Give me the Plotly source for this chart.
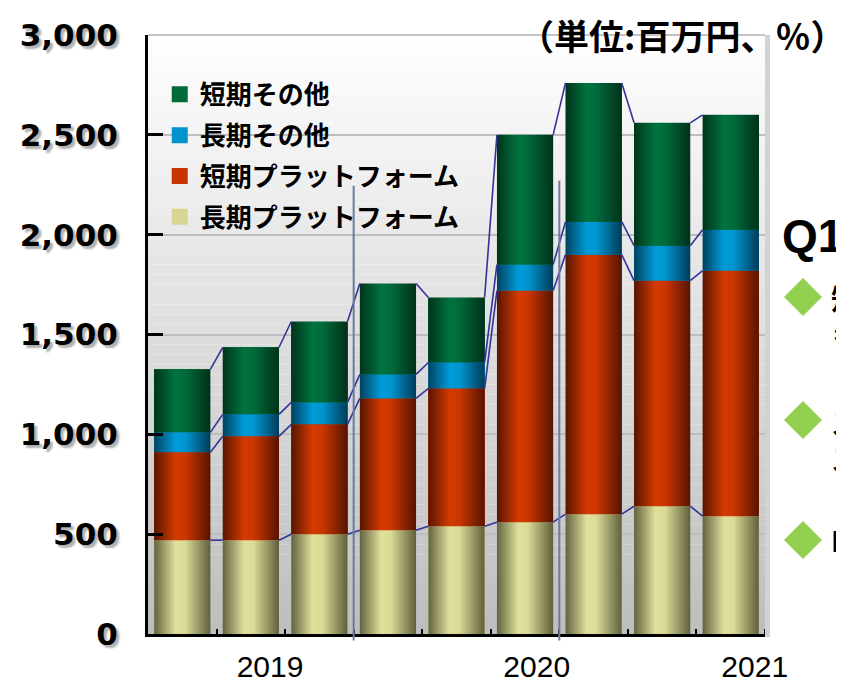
import plotly.graph_objects as go

# ---------------- data ----------------
periods = ["2019-a", "2019-b", "2019-c", "2020-a", "2020-b", "2020-c", "2021-a", "2021-b", "2021-c"]
long_platform = [470, 470, 500, 520, 540, 560, 600, 640, 590]      # 長期プラットフォーム
short_platform = [440, 520, 550, 660, 690, 1160, 1300, 1130, 1230]  # 短期プラットフォーム
long_other = [100, 110, 110, 120, 130, 130, 165, 175, 205]          # 長期その他
short_other = [315, 335, 405, 455, 325, 650, 695, 615, 575]         # 短期その他
series_names = ["長期プラットフォーム", "短期プラットフォーム", "長期その他", "短期その他"]
year_labels = ["2019", "2020", "2021"]
year_label_pos = [1.28, 5.17, 8.35]
y_ticks = [0, 500, 1000, 1500, 2000, 2500, 3000]

# ---------------- style ----------------
Y_MAX = 3000
BAR_W = 0.82
mid_colors = ["#d6d690", "#c83400", "#0093cc", "#006a3a"]
grad_scales = [
    [[0, "#636340"], [0.38, "#e0e09c"], [0.55, "#dadb96"], [1, "#5f5f3c"]],
    [[0, "#571600"], [0.38, "#d33a00"], [0.55, "#cc3600"], [1, "#551400"]],
    [[0, "#00425f"], [0.38, "#009bd8"], [0.55, "#0096d0"], [1, "#003b58"]],
    [[0, "#00341b"], [0.38, "#00733f"], [0.55, "#006b3b"], [1, "#00311a"]],
]
LINE_COL = "#33339a"

# page body has an 8px margin, so the figure is offset by 8px in the screenshot
OFF = 8
PL, PR, PT, PB = 148, 765, 35, 634   # plot area in screenshot pixels
W, H = 844, 682

xs = list(range(len(periods)))
series = [long_platform, short_platform, long_other, short_other]

fig = go.Figure()

# real stacked bars
for name, vals, col in zip(series_names, series, mid_colors):
    fig.add_trace(go.Bar(x=xs, y=vals, name=name, width=BAR_W, marker=dict(color=col, line=dict(width=0)),
                         showlegend=False, hoverinfo="skip"))

# gradient overlays on every segment, computed from the same data
cum = [0] * len(xs)
levels = []
for vals, scale in zip(series, grad_scales):
    top = [c + v for c, v in zip(cum, vals)]
    for i in xs:
        x0, x1 = i - BAR_W / 2, i + BAR_W / 2
        fig.add_trace(go.Scatter(
            x=[x0, x1, x1, x0, x0], y=[cum[i], cum[i], top[i], top[i], cum[i]],
            mode="none", fill="toself", fillcolor=scale[1][1],
            fillgradient=dict(type="horizontal", colorscale=scale),
            showlegend=False, hoverinfo="skip"))
    levels.append(top)
    cum = top

# series lines joining segment tops between neighbouring bars
lx, ly = [], []
for top in levels:
    for i in xs[:-1]:
        lx += [i + BAR_W / 2, i + 1 - BAR_W / 2, None]
        ly += [top[i], top[i + 1], None]
fig.add_trace(go.Scatter(x=lx, y=ly, mode="lines", line=dict(color=LINE_COL, width=1.6),
                         showlegend=False, hoverinfo="skip"))

# legend entries (display order as in the reference)
for idx in [3, 2, 1, 0]:
    fig.add_trace(go.Scatter(x=[None], y=[None], mode="markers", name=series_names[idx],
                             legendgroup=series_names[idx],
                             marker=dict(symbol="square", size=16, color=mid_colors[idx])))


def px2paper(px, py):
    return (px - PL) / (PR - PL), (PB - py) / (PB - PT)


# background gradient of the plot area
shapes = []
N = 60
for k in range(N):
    t = (k + 0.5) / N
    g = int(190 + (255 - 190) * t)
    shapes.append(dict(type="rect", xref="paper", yref="paper", x0=0, x1=1, y0=k / N, y1=(k + 1) / N,
                       fillcolor=f"rgb({g},{g},{g})", line=dict(width=0), layer="below"))
# top frame line and right frame
shapes.append(dict(type="line", xref="paper", yref="paper", x0=0, x1=1, y0=1, y1=1,
                   line=dict(color="#c4c4c4", width=2), layer="below"))
shapes.append(dict(type="line", xref="paper", yref="paper", x0=1.004, x1=1.004, y0=-0.005, y1=1,
                   line=dict(color="#d2d2d2", width=5)))
# year separators
for xsep, ytop in [(2.5, 2245), (5.5, 2270)]:
    shapes.append(dict(type="line", xref="x", yref="paper", x0=xsep, x1=xsep, y0=-0.011, y1=ytop / Y_MAX,
                       line=dict(color="#6a7b9c", width=2), layer="above"))
# green diamonds on the right
for cy in [297, 420, 540]:
    cx0, cy0 = px2paper(803, cy)
    dx, dy = 19 / (PR - PL), 19 / (PB - PT)
    shapes.append(dict(type="path", xref="paper", yref="paper",
                       path=f"M{cx0 - dx},{cy0} L{cx0},{cy0 + dy} L{cx0 + dx},{cy0} L{cx0},{cy0 - dy} Z",
                       fillcolor="#92d050", line=dict(width=0)))

annotations = []
tx, ty = px2paper(847, 34)
annotations.append(dict(text="（単位:百万円、％）", xref="paper", yref="paper", x=tx, y=ty,
                        xanchor="right", yanchor="middle", showarrow=False,
                        font=dict(family="Noto Sans CJK JP", size=35, color="black", weight="bold")))
qx, qy = px2paper(780, 236)
annotations.append(dict(text="Q1", xref="paper", yref="paper", x=qx, y=qy, xanchor="left", yanchor="middle",
                        showarrow=False, font=dict(family="Liberation Sans, Arial", size=46, color="black",
                                                   weight="bold")))
for txt, py in [("短期<br>＝", 316), ("ス<br>ス", 440), ("I", 540)]:
    ax, ay = px2paper(829, py)
    annotations.append(dict(text=txt, xref="paper", yref="paper", x=ax, y=ay, xanchor="left", yanchor="middle",
                            showarrow=False, align="left",
                            font=dict(family="Noto Sans CJK JP", size=28, color="black", weight="bold")))

fig.update_layout(
    width=W, height=H,
    margin=dict(l=PL - OFF, r=W - (PR - OFF), t=PT - OFF, b=H - (PB - OFF), autoexpand=False),
    paper_bgcolor="white", plot_bgcolor="white",
    barmode="stack", bargap=0.18,
    hovermode=False,
    shapes=shapes, annotations=annotations,
    legend=dict(x=0.019, y=0.94, xanchor="left", yanchor="top", bgcolor="rgba(0,0,0,0)",
                font=dict(family="Noto Sans CJK JP", size=26, color="black", weight="bold"),
                tracegroupgap=4, traceorder="grouped", itemclick=False, itemdoubleclick=False),
    xaxis=dict(range=[-0.5, len(xs) - 0.5], tickmode="array", tickvals=year_label_pos, ticktext=year_labels,
               ticks="", showline=True, linecolor="black", linewidth=3, showgrid=False, zeroline=False,
               automargin=False, ticklabelstandoff=4,
               tickfont=dict(family="Liberation Sans Narrow, Arial Narrow, Liberation Sans, sans-serif",
                             size=30, color="black"),
               minor=dict(tickmode="array", tickvals=[i + 0.5 for i in xs], ticks="inside", ticklen=5,
                          tickwidth=2, tickcolor="black", showgrid=False),
               fixedrange=True),
    yaxis=dict(range=[0, Y_MAX], tickmode="array", tickvals=y_ticks, tickformat=",",
               ticks="inside", ticklen=15, tickwidth=3, tickcolor="black",
               showline=True, linecolor="black", linewidth=3,
               showgrid=True, gridcolor="#bdbdbd", gridwidth=1.5, zeroline=False,
               automargin=False, ticklabelstandoff=21,
               tickfont=dict(family="DejaVu Sans", size=31, color="black", weight="bold",
                             shadow="3px 3px 2px #b0b0b0"),
               fixedrange=True),
)

fig.write_html("out.html")
